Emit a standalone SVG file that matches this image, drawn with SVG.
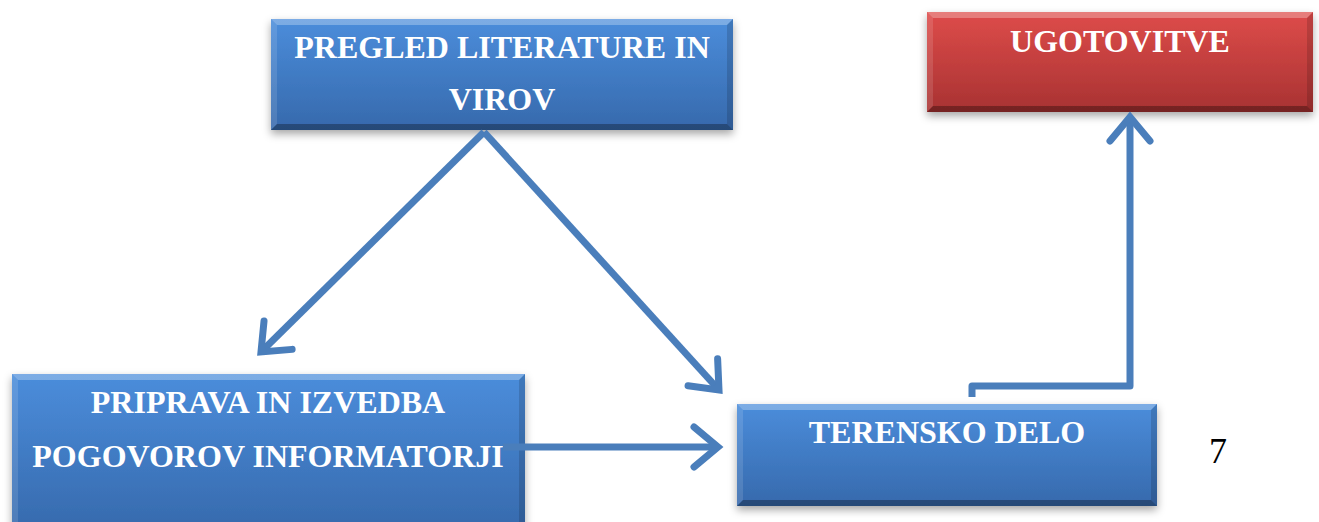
<svg xmlns="http://www.w3.org/2000/svg" width="1319" height="522" viewBox="0 0 1319 522">
<style>
.lbl{font-family:"Liberation Serif","Times New Roman",serif;font-weight:bold;font-size:32px;fill:#fff;text-anchor:middle}
.hi{fill:#fff;fill-opacity:.28}
.hs{fill:#fff;fill-opacity:.12}
.lo{fill:#000;fill-opacity:.14}
.lb{fill:#000;fill-opacity:.3}
.con{fill:none;stroke:#4a7ebb;stroke-width:7;stroke-linejoin:round;marker-end:url(#arr)}
.num{font-family:"Liberation Serif","Times New Roman",serif;font-size:36px;fill:#000;text-anchor:middle}
</style>
<defs>
<linearGradient id="gb" x1="0" y1="0" x2="0" y2="1">
<stop offset="0" stop-color="#4b8ddb"/>
<stop offset="1" stop-color="#3669ac"/>
</linearGradient>
<linearGradient id="gr" x1="0" y1="0" x2="0" y2="1">
<stop offset="0" stop-color="#de4c4a"/>
<stop offset="1" stop-color="#a83232"/>
</linearGradient>
<filter id="sh" x="-5%" y="-10%" width="110%" height="130%">
<feDropShadow dx="0" dy="4" stdDeviation="4" flood-color="#000" flood-opacity=".35"/>
</filter>
<marker id="arr" markerUnits="userSpaceOnUse" viewBox="-32 -26 40 52" markerWidth="40" markerHeight="52" refX="0" refY="0" orient="auto" overflow="visible">
<path d="M-24,-20 L0,0 L-24,20" fill="none" stroke="#4a7ebb" stroke-width="7" stroke-linecap="round" stroke-linejoin="miter"/>
</marker>
</defs>

<g id="n1">
<rect x="271" y="19" width="462" height="111" fill="url(#gb)" filter="url(#sh)"/>
<polygon class="hi" points="271,19 733,19 727,25 277,25"/>
<polygon class="hs" points="271,19 277,25 277,124 271,130"/>
<polygon class="lo" points="733,19 733,130 727,124 727,25"/>
<polygon class="lb" points="271,130 733,130 727,124 277,124"/>
<text class="lbl" x="502" y="58">PREGLED LITERATURE IN</text>
<text class="lbl" x="502" y="110">VIROV</text>
</g>

<g id="n2">
<rect x="927" y="12" width="386" height="100" fill="url(#gr)" filter="url(#sh)"/>
<polygon class="hi" points="927,12 1313,12 1307,18 933,18"/>
<polygon class="hs" points="927,12 933,18 933,106 927,112"/>
<polygon class="lo" points="1313,12 1313,112 1307,106 1307,18"/>
<polygon class="lb" points="927,112 1313,112 1307,106 933,106"/>
<text class="lbl" x="1120" y="52">UGOTOVITVE</text>
</g>

<g id="n3">
<rect x="12" y="374" width="513" height="160" fill="url(#gb)" filter="url(#sh)"/>
<polygon class="hi" points="12,374 525,374 519,380 18,380"/>
<polygon class="hs" points="12,374 18,380 18,528 12,534"/>
<polygon class="lo" points="525,374 525,534 519,528 519,380"/>
<text class="lbl" x="268" y="413">PRIPRAVA IN IZVEDBA</text>
<text class="lbl" x="268" y="467">POGOVOROV INFORMATORJI</text>
</g>

<g id="n4">
<rect x="737" y="404" width="420" height="102" fill="url(#gb)" filter="url(#sh)"/>
<polygon class="hi" points="737,404 1157,404 1151,410 743,410"/>
<polygon class="hs" points="737,404 743,410 743,500 737,506"/>
<polygon class="lo" points="1157,404 1157,506 1151,500 1151,410"/>
<polygon class="lb" points="737,506 1157,506 1151,500 743,500"/>
<text class="lbl" x="947" y="443">TERENSKO DELO</text>
</g>

<g id="connectors">
<path class="con" d="M484,132 L261,352"/>
<path class="con" d="M484,132 L719,390"/>
<path class="con" d="M503,447 L718,447"/>
<path class="con" d="M972,397 L972,386 L1130,386 L1130,117"/>
</g>

<text class="num" x="1218" y="463">7</text>
</svg>
